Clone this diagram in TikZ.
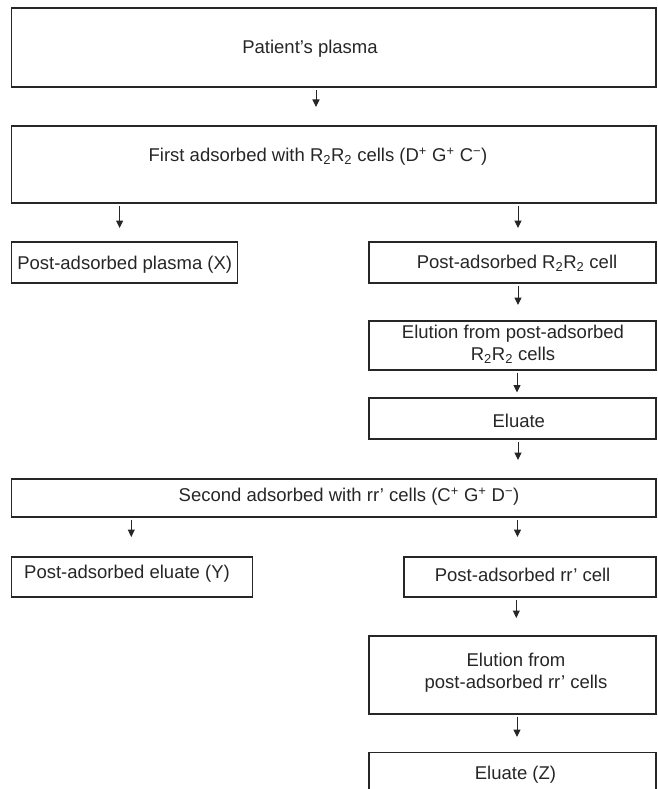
\documentclass[tikz,border=0pt]{standalone}
\usepackage{fontspec}
\setmainfont{Liberation Sans}
\usetikzlibrary{arrows.meta}
\begin{document}
\begin{tikzpicture}[x=1pt,y=-1pt,
  box/.style={draw=black!85, line width=1.2pt, inner sep=0pt},
  txt/.style={font=\fontsize{18.5}{22}\selectfont, text=black!85, inner sep=0pt, align=center, text height=13.3pt, text depth=0pt},
  arr/.style={-{Triangle[length=7.5pt,width=7pt]}, line width=1pt, draw=black!85, shorten <=2pt}]
\useasboundingbox (0,0) rectangle (657,789);
\clip (0,0) rectangle (657,789);
% boxes
\node[box, minimum width=644.3pt, minimum height=79pt] (b1) at (333.85,47.5) {};
\node[box, minimum width=644.3pt, minimum height=77pt] (b2) at (333.85,164.5) {};
\node[box, minimum width=225.8pt, minimum height=41pt] (bx) at (124.6,262.5) {};
\node[box, minimum width=287pt, minimum height=41pt] (br1) at (512.5,262.5) {};
\node[box, minimum width=287pt, minimum height=49pt] (be1) at (512.5,345.5) {};
\node[box, minimum width=287pt, minimum height=41pt] (bel) at (512.5,418.5) {};
\node[box, minimum width=644.3pt, minimum height=38pt] (b3) at (333.85,498) {};
\node[box, minimum width=240.8pt, minimum height=40pt] (by) at (132.1,577) {};
\node[box, minimum width=252pt, minimum height=40pt] (br2) at (530,577) {};
\node[box, minimum width=287pt, minimum height=78pt] (be2) at (512.5,675) {};
\node[box, minimum width=287pt, minimum height=67.3pt] (bz) at (512.5,786.35) {};
% texts
\node[txt] (t1) at (310,47) {Patient’s plasma};
\node[txt] (t2) at (318,155) {First adsorbed with R\textsubscript{2}R\textsubscript{2} cells (D\textsuperscript{+} G\textsuperscript{+} C\textsuperscript{−})};
\node[txt] (tx) at (124.7,262.6) {Post-adsorbed plasma (X)};
\node[txt] (tr1) at (517,262) {Post-adsorbed R\textsubscript{2}R\textsubscript{2} cell};
\node[txt] (te1) at (513,354) {Elution from post-adsorbed\\R\textsubscript{2}R\textsubscript{2} cells};
\node[txt] (tel) at (518.8,421) {Eluate};
\node[txt] (t3) at (349,495) {Second adsorbed with rr’ cells (C\textsuperscript{+} G\textsuperscript{+} D\textsuperscript{−})};
\node[txt] (ty) at (127,571.7) {Post-adsorbed eluate (Y)};
\node[txt] (tr2) at (522.6,575) {Post-adsorbed rr’ cell};
\node[txt] (te2) at (516,681.7) {Elution from\\post-adsorbed rr’ cells};
\node[txt] (tz) at (515.5,773) {Eluate (Z)};
% arrow ends
\coordinate (a1) at (316,107);
\coordinate (a2l) at (119.6,228);
\coordinate (a2r) at (518,228);
\coordinate (a3) at (518,305);
\coordinate (a4) at (517,392.5);
\coordinate (a5) at (518,460);
\coordinate (a6l) at (131.3,537);
\coordinate (a6r) at (517.5,537);
\coordinate (a7) at (516.3,618);
\coordinate (a8) at (517,737);
% arrows
\draw[arr] (b1.south -| a1) -- (a1);
\draw[arr] (b2.south -| a2l) -- (a2l);
\draw[arr] (b2.south -| a2r) -- (a2r);
\draw[arr] (br1.south -| a3) -- (a3);
\draw[arr] (be1.south -| a4) -- (a4);
\draw[arr] (bel.south -| a5) -- (a5);
\draw[arr] (b3.south -| a6l) -- (a6l);
\draw[arr] (b3.south -| a6r) -- (a6r);
\draw[arr] (br2.south -| a7) -- (a7);
\draw[arr] (be2.south -| a8) -- (a8);
\end{tikzpicture}
\end{document}
